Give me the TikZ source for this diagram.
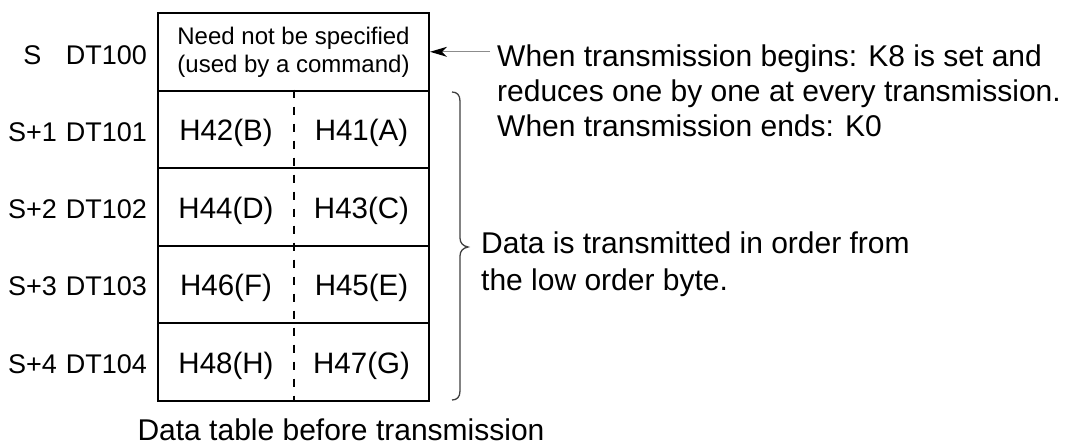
\documentclass[tikz,border=0pt]{standalone}
\usepackage{fontspec}
\setmainfont{Liberation Sans}
\usetikzlibrary{arrows.meta,calc}
\begin{document}
\begin{tikzpicture}[x=1pt,y=-1pt,
  cell/.style={draw=black, line width=2pt, minimum width=271pt, minimum height=77.6pt, inner sep=0pt},
  celltext/.style={font=\fontsize{29.5}{33}\selectfont, inner sep=0pt, anchor=base},
  lbl/.style={font=\fontsize{27}{32}\selectfont, inner sep=0pt, anchor=base},
  lblr/.style={font=\fontsize{27}{32}\selectfont, inner sep=0pt, anchor=base east},
  note/.style={font=\fontsize{30}{35}\selectfont, align=left, inner sep=0pt, anchor=north west},
  midline/.style={draw=black, line width=2pt, dash pattern=on 8pt off 9pt},
  arrowline/.style={draw=black!45, line width=1.2pt, -{Stealth[length=17pt,width=10pt,inset=5pt,color=black]}},
  bracestyle/.style={draw=black!75, line width=1.3pt},
]
\useasboundingbox (0,0) rectangle (1076,445);

% table rows
\node[cell] (r0) at (293.5,51.8) {};
\node[cell] (r1) at (293.5,129.4) {};
\node[cell] (r2) at (293.5,207.0) {};
\node[cell] (r3) at (293.5,284.6) {};
\node[cell] (r4) at (293.5,362.2) {};

% dashed divider
\draw[midline] (r1.north) -- (r4.south);

% top cell text
\node[font=\fontsize{24}{28}\selectfont, align=center, inner sep=0pt] (t0) at (r0.center) {Need not be specified\\(used by a command)};

% cell contents
\node[celltext] (h42) at (226,140.4) {H42(B)};
\node[celltext] (h41) at (361.5,140.4) {H41(A)};
\node[celltext] (h44) at (226,218.0) {H44(D)};
\node[celltext] (h43) at (361.5,218.0) {H43(C)};
\node[celltext] (h46) at (226,295.6) {H46(F)};
\node[celltext] (h45) at (361.5,295.6) {H45(E)};
\node[celltext] (h48) at (226,373.2) {H48(H)};
\node[celltext] (h47) at (361.5,373.2) {H47(G)};

% left labels
\node[lbl] (p0) at (32.5,64) {S};
\node[lblr] (d0) at (147,64) {DT100};
\node[lbl] (p1) at (32.5,141.5) {S+1};
\node[lblr] (d1) at (147,141.5) {DT101};
\node[lbl] (p2) at (32.5,218) {S+2};
\node[lblr] (d2) at (147,218) {DT102};
\node[lbl] (p3) at (32.5,295.6) {S+3};
\node[lblr] (d3) at (147,295.6) {DT103};
\node[lbl] (p4) at (32.5,373.2) {S+4};
\node[lblr] (d4) at (147,373.2) {DT104};

% annotation with arrow
\node[note] (n1) at (497,44.5) {When transmission begins: K8 is set and\\reduces one by one at every transmission.\\When transmission ends: K0};
\coordinate (astart) at (490,51.8);
\draw[arrowline] (astart) -- (r0.east);

% brace
\coordinate (btop) at (452,92);
\coordinate (btip) at (468,247);
\coordinate (bbot) at (452,400);
\draw[bracestyle] (btop) .. controls (457,92) and (460,95) .. (460,101)
  -- (460,238) .. controls (460,243) and (463,246) .. (btip)
  .. controls (463,248) and (460,251) .. (460,256)
  -- (460,391) .. controls (460,397) and (457,400) .. (bbot);

\node[note, font=\fontsize{30}{37}\selectfont] (n2) at (481,231.5) {Data is transmitted in order from\\the low order byte.};

% caption
\node[font=\fontsize{30}{35}\selectfont, anchor=base, inner sep=0pt] (cap) at (341,440) {Data table before transmission};
\end{tikzpicture}
\end{document}
